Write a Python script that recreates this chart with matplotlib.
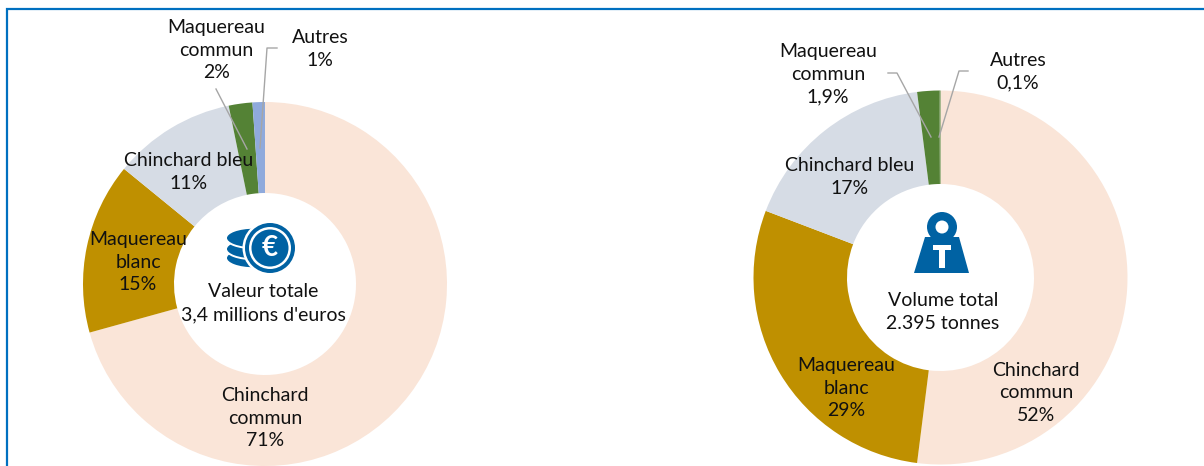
"""Two donut charts: value and volume by species."""

import matplotlib
matplotlib.use("Agg")
import matplotlib.pyplot as plt
from matplotlib.patches import Circle, Ellipse, Polygon, Rectangle

WIDTH = 1204
HEIGHT = 466

species = ["Chinchard\ncommun", "Maquereau\nblanc", "Chinchard bleu", "Maquereau\ncommun", "Autres"]
value_shares = [70.7, 15.2, 10.9, 2.1, 1.1]
value_labels = ["71%", "15%", "11%", "2%", "1%"]
volume_shares = [52, 28.8, 17.2, 1.9, 0.1]
volume_labels = ["52%", "29%", "17%", "1,9%", "0,1%"]
value_title = "Valeur totale\n3,4 millions d'euros"
volume_title = "Volume total\n2.395 tonnes"

value_colors = ["#FAE5D8", "#BF9000", "#D6DCE5", "#548235", "#8FAADC"]
volume_colors = ["#FAE5D8", "#BF9000", "#D6DCE5", "#548235", "#548235"]
FRAME = "#0070C0"
ICON = "#0062A3"
LEADER = "#A6A6A6"
FONT = "Lato"
FONT_SIZE = 14

plt.rcParams["font.family"] = FONT


def donut(fig, cx, cy, r, hole, shares, colors):
    ax = fig.add_axes([(cx - r) / WIDTH, 1 - (cy + r) / HEIGHT, 2 * r / WIDTH, 2 * r / HEIGHT])
    ax.pie(shares, colors=colors, startangle=90, counterclock=False, radius=1,
           wedgeprops={"width": 1 - hole / r, "linewidth": 0}, frame=True)
    ax.set_xlim(-1, 1)
    ax.set_ylim(-1, 1)
    ax.axis("off")
    return ax


def label(ax, x, y, text):
    ax.text(x, y, text, ha="center", va="center", fontsize=FONT_SIZE, color="#111111",
            linespacing=1.42, zorder=5)


def coins(ax, cx, cy):
    # stack behind the coin, lowest disc first so the white edges read as stripes
    for mid in (258, 249, 238):
        ax.add_patch(Ellipse((254, mid), 56, 20.5, facecolor=ICON, edgecolor="white", lw=1.4, zorder=3))
    ax.add_patch(Circle((cx, cy), 27.5, color="white", lw=0, zorder=3))
    ax.add_patch(Circle((cx, cy), 25, color=ICON, lw=0, zorder=3))
    ax.add_patch(Circle((cx, cy), 21, color="white", lw=0, zorder=3))
    ax.add_patch(Circle((cx, cy), 18.5, color=ICON, lw=0, zorder=3))
    ax.text(cx, cy, "€", ha="center", va="center", color="white", fontsize=20,
            fontweight="bold", zorder=4)


def weight(ax, cx, cy):
    ax.add_patch(Circle((cx, cy), 15, color=ICON, lw=0, zorder=3))
    ax.add_patch(Circle((cx, cy), 6.5, color="white", lw=0, zorder=4))
    ax.add_patch(Polygon([(cx - 17, 237), (cx + 17, 237), (cx + 27, 273), (cx - 28, 273)],
                         closed=True, color=ICON, lw=0, zorder=3))
    ax.add_patch(Rectangle((cx - 9, 245), 18, 4.5, color="white", lw=0, zorder=4))
    ax.add_patch(Rectangle((cx - 3, 249), 6, 19, color="white", lw=0, zorder=4))


def main():
    fig = plt.figure(figsize=(WIDTH / 100, HEIGHT / 100), dpi=100, facecolor="white")

    donut(fig, 265, 284, 182, 91, value_shares, value_colors)
    donut(fig, 940.5, 277.5, 187, 93.5, volume_shares, volume_colors)

    # overlay in pixel space for frame, labels, leaders and icons
    over = fig.add_axes([0, 0, 1, 1], facecolor="none", zorder=10)
    over.set_xlim(0, WIDTH)
    over.set_ylim(HEIGHT, 0)
    over.axis("off")

    over.plot([7, 7, WIDTH], [HEIGHT, 8.5, 8.5], color=FRAME, lw=1.6, solid_joinstyle="miter")

    # leader lines
    over.plot([277, 267, 260], [48, 48, 148], color=LEADER, lw=1)
    over.plot([216, 247], [89, 149], color=LEADER, lw=1)
    over.plot([888, 897, 931], [73, 73, 137], color=LEADER, lw=1)
    over.plot([968, 959, 939], [71, 71, 137], color=LEADER, lw=1)

    value_pos = [(265, 418), (138, 262), (189, 172), (216.5, 50), (320, 49)]
    volume_pos = [(1036, 393), (846, 388), (850, 177), (828, 74), (1018, 71.5)]
    for name, pct, pos in zip(species, value_labels, value_pos):
        label(over, pos[0], pos[1], f"{name}\n{pct}")
    for name, pct, pos in zip(species, volume_labels, volume_pos):
        label(over, pos[0], pos[1], f"{name}\n{pct}")

    label(over, 263, 303, value_title)
    label(over, 943, 312, volume_title)

    coins(over, 270, 248)
    weight(over, 942, 227)

    fig.savefig("out.png", dpi=100)
    plt.close(fig)


if __name__ == "__main__":
    main()
